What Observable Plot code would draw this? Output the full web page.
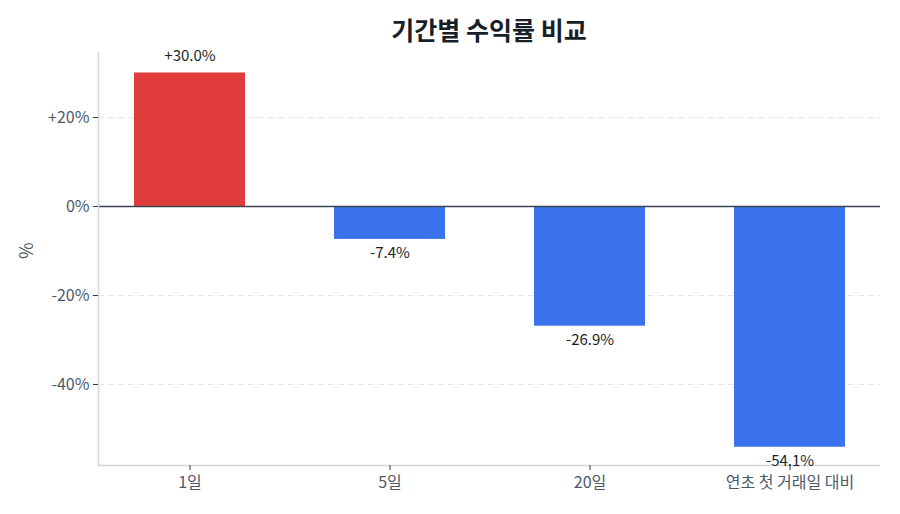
<!DOCTYPE html>
<html>
<head>
<meta charset="utf-8">
<script src="https://cdn.jsdelivr.net/npm/d3@7"></script>
<script src="https://cdn.jsdelivr.net/npm/@observablehq/plot@0.6"></script>
<style>
  html, body { margin: 0; padding: 0; background: #fff; }
  body { width: 900px; height: 514px; overflow: hidden; font-family: "Noto Sans CJK KR", "Noto Sans", sans-serif; }
  #title { height: 34px; line-height: 58px; text-align: center; font-size: 25px; font-weight: 700; color: #191f28; margin-left: 78px; position: relative; z-index: 1; }
  #chart svg { display: block; }
</style>
</head>
<body>
<div id="title">기간별 수익률 비교</div>
<div id="chart"></div>
<script>
// 기간별 수익률 (%)
const periods = ["1일", "5일", "20일", "연초 첫 거래일 대비"];
const returns = [30.0, -7.4, -26.9, -54.1];
const yTicks = [20, 0, -20, -40];

const rows = periods.map((p, i) => ({period: p, value: returns[i]}));
const fmtPct = v => (v > 0 ? "+" : "") + v.toFixed(1) + "%";
const fmtTick = v => (v > 0 ? "+" : "") + v + "%";
const yMin = -58.2, yMax = 34.6;

const chart = Plot.plot({
  width: 900,
  height: 480,
  marginTop: 18,
  marginBottom: 49,
  marginLeft: 98,
  marginRight: 20,
  style: {fontFamily: "'Noto Sans CJK KR', 'Noto Sans', sans-serif", fontSize: "16px", color: "#4e5968", overflow: "visible"},
  x: {domain: periods, label: null, paddingInner: 0.445, paddingOuter: 0.1775},
  y: {domain: [yMin, yMax], label: null},
  marks: [
    Plot.gridY(yTicks.filter(t => t !== 0), {stroke: "#e5e7eb", strokeOpacity: 1, strokeDasharray: "6,4"}),
    Plot.barY(rows, {x: "period", y: "value", fill: d => d.value >= 0 ? "#e03c3c" : "#3b73ec"}),
    Plot.ruleY([0], {stroke: "#3d4451", strokeWidth: 1.5}),
    Plot.frame({anchor: "left", stroke: "#d1d6e0", strokeWidth: 1.5}),
    Plot.ruleY([yMin], {stroke: "#d1d6e0", strokeWidth: 1.5}),
    Plot.axisY(yTicks, {tickFormat: fmtTick, tickSize: 5, tickPadding: 4, stroke: "#333d4b", fill: "#4e5968", fontSize: 16, label: null}),
    Plot.axisX({tickSize: 5, tickPadding: 6, stroke: "#333d4b", fill: "#4e5968", fontSize: 16, label: null}),
    Plot.text(rows.filter(d => d.value >= 0), {x: "period", y: "value", text: d => fmtPct(d.value), dy: -17, fill: "#191f28", fontSize: 15}),
    Plot.text(rows.filter(d => d.value < 0), {x: "period", y: "value", text: d => fmtPct(d.value), dy: 14, fill: "#191f28", fontSize: 15}),
    Plot.text(["%"], {frameAnchor: "left", dx: -71, rotate: -90, fill: "#4e5968", fontSize: 18})
  ]
});
document.getElementById("chart").appendChild(chart);
</script>
</body>
</html>
